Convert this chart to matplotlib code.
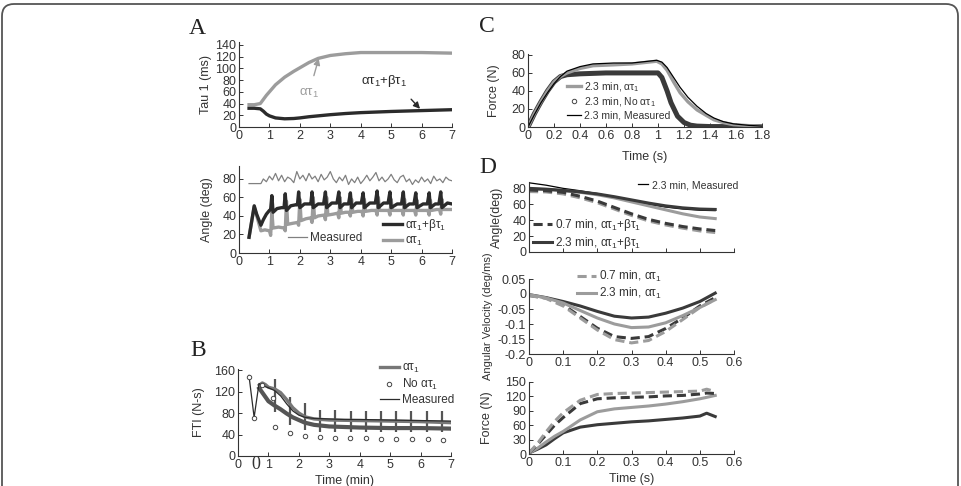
import numpy as np
import matplotlib.pyplot as plt
from matplotlib.lines import Line2D
from matplotlib.patches import FancyBboxPatch

W, H = 961, 486
DARK = '#2b2b2b'
GRAY = '#9c9c9c'
MID = '#808080'
TXT = '#333333'

plt.rcParams['font.family'] = ['Liberation Sans', 'DejaVu Sans']
plt.rcParams['mathtext.fontset'] = 'custom'
plt.rcParams['mathtext.rm'] = 'Liberation Sans'
plt.rcParams['mathtext.it'] = 'Liberation Sans'

A1 = 'ατ$_1$'
AB1 = 'ατ$_1$+βτ$_1$'

# ---- panel A, Tau 1 ----
tau_time = [0.33, 0.5, 0.7, 0.8, 0.9, 1.0, 1.2, 1.5, 1.8, 2.0, 2.3, 2.6, 3.0, 3.5, 4.0, 5.0, 6.0, 7.0]
tau_alpha = [38, 38, 40, 47, 54, 60, 72, 85, 95, 101, 110, 117, 122, 125, 127, 127, 127, 126]
tau_alphabeta = [32, 32, 31, 27, 22, 19, 15.5, 14, 14.5, 15.5, 17.5, 19, 21, 23, 24.5, 26.5, 28, 29.5]

# ---- panel A, Angle ----
ang_meas_t = [0.33, 0.72, 0.8, 0.9, 1.0, 1.1, 1.2, 1.3, 1.4, 1.5, 1.6, 1.7, 1.8, 1.9, 2.0, 2.1, 2.2, 2.3,
              2.4, 2.5, 2.6, 2.7, 2.8, 2.9, 3.0, 3.1, 3.2, 3.3, 3.4, 3.5, 3.6, 3.7, 3.8, 3.9, 4.0, 4.1,
              4.2, 4.3, 4.4, 4.5, 4.6, 4.7, 4.8, 4.9, 5.0, 5.1, 5.2, 5.3, 5.4, 5.5, 5.6, 5.7, 5.8, 5.9,
              6.0, 6.1, 6.2, 6.3, 6.4, 6.5, 6.6, 6.7, 6.8, 6.9, 7.0]
ang_meas = [75, 75, 80, 77, 83, 79, 86, 78, 84, 77, 82, 80, 76, 88, 80, 84, 78, 86,
            80, 83, 77, 85, 79, 82, 88, 80, 76, 82, 78, 84, 74, 80, 76, 82, 75, 79,
            84, 78, 82, 87, 78, 82, 77, 80, 85, 79, 76, 82, 84, 77, 80, 74, 79, 76,
            82, 77, 80, 75, 83, 78, 80, 76, 82, 79, 78]
ang_ab_t = [0.33, 0.5, 0.58, 0.72, 0.8, 0.9, 1.0, 1.04, 1.08, 1.12, 1.25, 1.4, 1.48, 1.52, 1.56, 1.7,
            1.85, 1.92, 1.96, 2.0, 2.15, 2.3, 2.36, 2.4, 2.44, 2.6, 2.78, 2.84, 2.88, 3.05, 3.22, 3.28,
            3.32, 3.45, 3.6, 3.66, 3.7, 3.85, 4.02, 4.08, 4.12, 4.3, 4.48, 4.54, 4.58, 4.75, 4.9, 4.96,
            5.0, 5.2, 5.34, 5.4, 5.44, 5.6, 5.75, 5.81, 5.85, 6.05, 6.19, 6.25, 6.29, 6.45, 6.57, 6.63,
            6.67, 6.85, 7.0]
ang_ab = [17, 51, 42, 30, 36, 42, 46, 47, 62, 44, 48, 49, 49, 64, 46, 51,
          52, 52, 66, 49, 53, 53, 53, 66, 49, 53, 53, 66, 49, 54, 54, 66,
          49, 53, 53, 65, 49, 54, 54, 65, 49, 54, 54, 67, 49, 54, 54, 66,
          49, 53, 53, 66, 49, 53, 53, 65, 49, 53, 53, 65, 49, 53, 53, 66,
          49, 54, 53]
ang_a_t = [0.33, 0.5, 0.6, 0.72, 0.85, 1.0, 1.04, 1.08, 1.12, 1.3, 1.48, 1.52, 1.56, 1.6, 1.75, 1.92,
           1.96, 2.0, 2.04, 2.2, 2.36, 2.4, 2.44, 2.48, 2.6, 2.8, 2.84, 2.88, 2.92, 3.1, 3.24, 3.28,
           3.32, 3.36, 3.5, 3.62, 3.66, 3.7, 3.74, 3.9, 4.04, 4.08, 4.12, 4.16, 4.35, 4.5, 4.54, 4.58,
           4.62, 4.8, 4.92, 4.96, 5.0, 5.04, 5.2, 5.36, 5.4, 5.44, 5.48, 5.65, 5.77, 5.81, 5.85, 5.89,
           6.05, 6.21, 6.25, 6.29, 6.33, 6.5, 6.59, 6.63, 6.67, 6.71, 6.85, 7.0]
ang_a = [17, 50, 38, 24, 25, 24, 19, 45, 27, 28, 27, 24, 56, 31, 32, 33,
         30, 58, 35, 37, 38, 33, 60, 38, 40, 41, 36, 60, 41, 42, 43, 38,
         60, 43, 44, 44, 40, 58, 44, 45, 45, 40, 58, 45, 46, 46, 41, 60,
         46, 46, 46, 41, 58, 46, 46, 46, 41, 58, 46, 46, 46, 41, 57, 46,
         46, 46, 41, 57, 46, 47, 47, 42, 58, 47, 47, 47]

# ---- panel B, FTI ----
fti_meas_t = [0.36, 0.53, 0.69, 0.8, 1.0, 1.2, 1.4, 1.6, 1.8, 2.0, 2.2, 2.5, 3.0, 3.5, 4.0, 5.0, 6.0, 7.0]
fti_meas = [150, 72, 135, 131, 127, 122, 112, 97, 84, 76, 72, 70, 69, 68, 68, 67, 66, 65]
fti_a_t = [0.7, 0.8, 0.9, 1.0, 1.2, 1.4, 1.6, 1.8, 2.0, 2.2, 2.5, 3.0, 4.0, 5.0, 6.0, 7.0]
fti_a = [132, 136, 133, 128, 125, 118, 105, 90, 80, 73, 69, 67, 66, 65, 64, 62]
fti_ab_t = [0.7, 0.8, 0.9, 1.0, 1.2, 1.4, 1.6, 1.8, 2.0, 2.2, 2.5, 3.0, 3.5, 4.0, 5.0, 6.0, 7.0]
fti_ab = [126, 118, 110, 102, 94, 87, 79, 72, 67, 62, 58, 55, 54, 53, 52, 52, 51]
fti_bar_t = [1.2, 1.7, 2.2, 2.7, 3.2, 3.7, 4.2, 4.7, 5.2, 5.7, 6.2, 6.7]
fti_bar_top = [143, 109, 98, 85, 85, 84, 84, 84, 83, 83, 83, 83]
fti_bar_bot = [82, 57, 48, 45, 45, 44, 44, 44, 44, 44, 44, 44]
fti_no_t = [0.36, 0.53, 0.8, 1.15, 1.21, 1.7, 2.2, 2.7, 3.18, 3.69, 4.2, 4.71, 5.2, 5.73, 6.24, 6.73]
fti_no = [148, 71, 132, 108, 54, 42, 38, 35, 34, 33, 33, 32, 31, 31, 31, 30]

# ---- panel C, Force ----
c_t = [0, 0.05, 0.1, 0.15, 0.2, 0.25, 0.3, 0.4, 0.5, 0.66, 0.8, 0.99, 1.03, 1.07, 1.12, 1.17,
       1.23, 1.3, 1.37, 1.43, 1.5, 1.58, 1.7, 1.8]
c_alpha = [0, 15, 28, 40, 50, 56, 60, 65, 68, 69, 70, 73, 70, 63, 50, 38,
           28, 19, 13, 8, 5, 2.6, 1.5, 1]
c_meas = [0, 14, 27, 38, 48, 56, 62, 67, 70, 71, 71, 74, 72, 66, 55, 44,
          33, 23, 15, 10, 6, 3.5, 1.8, 1]
c_no_t = [0, 0.05, 0.1, 0.15, 0.2, 0.25, 0.3, 0.4, 0.6, 0.8, 1.0, 1.03, 1.07, 1.1, 1.15, 1.2,
          1.25, 1.3, 1.4, 1.6, 1.8]
c_no = [0, 15, 28, 40, 50, 56, 58, 59, 60, 60, 60, 55, 40, 27, 12, 5,
        2, 1, 0.5, 0.5, 0.5]

# ---- panel D ----
d_t = [0, 0.05, 0.1, 0.15, 0.2, 0.25, 0.3, 0.35, 0.4, 0.45, 0.5, 0.545]
dang_meas = [87, 84, 80, 77, 73.5, 69, 64.5, 60, 56.5, 54, 52.5, 52]
dang_ab23 = [80, 79, 77.5, 75.5, 73, 69.5, 65.5, 61.5, 58, 55.5, 54, 53.5]
dang_a23 = [79, 78.5, 77, 75, 72, 68, 63, 58, 53, 48, 44, 42]
dang_ab07 = [78, 77, 75, 70, 64, 56, 48, 41, 36, 32, 29, 27]
dang_a07 = [76, 75.5, 73, 68, 62, 54, 46, 39, 34, 30, 26.5, 24.5]

dvel_ab23 = [-0.002, -0.012, -0.025, -0.04, -0.058, -0.074, -0.08, -0.077, -0.064, -0.047, -0.025, 0.003]
dvel_a23 = [-0.002, -0.013, -0.03, -0.055, -0.08, -0.1, -0.112, -0.11, -0.096, -0.072, -0.045, -0.019]
dvel_ab07 = [-0.005, -0.013, -0.036, -0.075, -0.114, -0.142, -0.148, -0.142, -0.115, -0.08, -0.04, -0.012]
dvel_a07 = [-0.005, -0.015, -0.04, -0.08, -0.12, -0.152, -0.163, -0.155, -0.125, -0.085, -0.045, -0.018]

df_t = [0, 0.025, 0.05, 0.075, 0.1, 0.15, 0.2, 0.25, 0.3, 0.35, 0.4, 0.45, 0.5, 0.52, 0.545]
dforce_ab23 = [2, 10, 19, 32, 44, 56, 61, 64, 67, 69, 72, 75, 79, 85, 78]
dforce_a23 = [2, 12, 25, 37, 47, 71, 88, 94, 97, 100, 104, 109, 115, 118, 122]
dforce_ab07 = [2, 20, 40, 60, 76, 105, 115, 117, 118, 119, 121, 122, 125, 127, 126]
dforce_a07 = [2, 22, 46, 68, 86, 112, 124, 126, 127, 128, 129, 130, 131, 135, 130]

vel_ticks = [-0.2, -0.15, -0.1, -0.05, 0, 0.05]
vel_labels = ['-0.2', '-0.15', '-0.1', '-0.05', '0', '0.05']

fig = plt.figure(figsize=(W / 100, H / 100), dpi=100)
fig.patch.set_facecolor('white')


def px_axes(l, t, r, b):
    return fig.add_axes([l / W, 1 - b / H, (r - l) / W, (b - t) / H])


def style(ax):
    for s in ['top', 'right']:
        ax.spines[s].set_visible(False)
    for s in ['left', 'bottom']:
        ax.spines[s].set_color(TXT)
        ax.spines[s].set_linewidth(0.8)
    ax.tick_params(direction='in', length=3, width=0.7, colors=TXT, labelsize=9, pad=2)


def ylab(ax, text, right_px, l, r, fs=9):
    ax.set_ylabel(text, fontsize=fs, color=TXT)
    ax.yaxis.set_label_coords((right_px - l) / (r - l), 0.5)


def leg(ax, handles, labels, x, y, fs, **kw):
    opts = dict(loc='upper left', bbox_to_anchor=(x / W, 1 - y / H),
                bbox_transform=fig.transFigure, frameon=False, fontsize=fs, borderpad=0,
                borderaxespad=0, handletextpad=0.3, labelspacing=0.15, handlelength=1.6)
    opts.update(kw)
    lg = ax.legend(handles, labels, **opts)
    for t in lg.get_texts():
        t.set_color(TXT)
    return lg


# ---- A top ----
ax = px_axes(239, 42, 452, 127)
style(ax)
ax.plot(tau_time, tau_alpha, color=GRAY, lw=2.4)
ax.plot(tau_time, tau_alphabeta, color=DARK, lw=2.4)
ax.set_xlim(0, 7)
ax.set_ylim(0, 145)
ax.set_xticks(range(8))
ax.set_yticks(range(0, 141, 20))
ylab(ax, 'Tau 1 (ms)', 212, 239, 452)
ax.annotate(A1, xy=(2.62, 117), xytext=(2.3, 58), fontsize=9.5, color=GRAY, ha='center', va='center',
            arrowprops=dict(arrowstyle='-|>', color=GRAY, lw=1.0, shrinkA=6, shrinkB=0))
ax.annotate(AB1, xy=(5.95, 31), xytext=(4.75, 78), fontsize=9.5, color=DARK, ha='center', va='center',
            arrowprops=dict(arrowstyle='-|>', color=DARK, lw=1.0, shrinkA=7, shrinkB=0,
                            relpos=(0.9, 0)))

# ---- A bottom ----
ax = px_axes(239, 166, 452, 253)
style(ax)
h_meas, = ax.plot(ang_meas_t, ang_meas, color=MID, lw=0.9)
h_a, = ax.plot(ang_a_t, ang_a, color=GRAY, lw=2.4)
h_ab, = ax.plot(ang_ab_t, ang_ab, color=DARK, lw=2.4)
ax.set_xlim(0, 7)
ax.set_ylim(0, 94)
ax.set_xticks(range(8))
ax.set_yticks(range(0, 81, 20))
ylab(ax, 'Angle (deg)', 213, 239, 452)
lg1 = leg(ax, [h_meas], ['Measured'], 288, 232, 8.5)
ax.add_artist(lg1)
leg(ax, [h_ab, h_a], [AB1, A1], 383, 217, 8.5)

# ---- B ----
ax = px_axes(238, 369, 451, 456)
style(ax)
ax.vlines(fti_bar_t, fti_bar_bot, fti_bar_top, color='#555555', lw=1.6)
h_ab, = ax.plot(fti_ab_t, fti_ab, color='#555555', lw=3.0)
h_a, = ax.plot(fti_a_t, fti_a, color='#777777', lw=2.4)
h_meas, = ax.plot(fti_meas_t, fti_meas, color=DARK, lw=0.9)
h_no, = ax.plot(fti_no_t, fti_no, 'o', ms=3.2, mfc='white', mec='#444444', mew=0.7)
ax.set_xlim(0, 7)
ax.set_ylim(0, 162)
ax.set_xticks(range(8))
ax.set_yticks(range(0, 161, 40))
ylab(ax, 'FTI (N-s)', 205, 238, 451)
ax.set_xlabel('Time (min)', fontsize=9, color=TXT)
ax.xaxis.set_label_coords(0.5, -(475 - 456) / 87)
fig.text(256 / W, 1 - 464 / H, '0', fontsize=13, family='Liberation Serif', color=TXT,
         ha='center', va='center')
leg(ax, [Line2D([], [], color='#777777', lw=2.4), h_no, h_meas], [A1, 'No ' + A1, 'Measured'],
    380, 362, 8.5)

# ---- C ----
ax = px_axes(528, 54, 762, 127)
style(ax)
ax.plot(c_no_t, c_no, color='#3a3a3a', lw=3.6)
ax.plot(c_t, c_alpha, color=GRAY, lw=2.4)
ax.plot(c_t, c_meas, color='black', lw=0.9)
ax.set_xlim(0, 1.8)
ax.set_ylim(0, 81)
ax.set_xticks(np.round(np.arange(0, 1.81, 0.2), 1))
ax.set_xticklabels(['0', '0.2', '0.4', '0.6', '0.8', '1', '1.2', '1.4', '1.6', '1.8'])
ax.set_yticks(range(0, 81, 20))
ylab(ax, 'Force (N)', 500, 528, 762)
ax.set_xlabel('Time (s)', fontsize=9, color=TXT)
ax.xaxis.set_label_coords(0.5, -(151 - 127) / 73)
leg(ax, [Line2D([], [], color=GRAY, lw=2.4),
         Line2D([], [], ls='none', marker='o', ms=3.2, mfc='white', mec='#444444', mew=0.7),
         Line2D([], [], color='black', lw=0.9)],
    ['2.3 min, ' + A1, '2.3 min, No ' + A1, '2.3 min, Measured'], 567, 80, 7.5,
    handlelength=1.3)

# ---- D angle ----
L, R = 529, 734
ax = px_axes(L, 182, R, 252)
style(ax)
h_m, = ax.plot(d_t, dang_meas, color='black', lw=0.9)
h_a23, = ax.plot(d_t, dang_a23, color=GRAY, lw=2.2)
h_a07, = ax.plot(d_t, dang_a07, color=GRAY, lw=2.2, ls=(0, (3, 1.6)))
h_ab07, = ax.plot(d_t, dang_ab07, color='#3a3a3a', lw=2.2, ls=(0, (3, 1.6)))
h_ab23, = ax.plot(d_t, dang_ab23, color='#3a3a3a', lw=2.2)
ax.set_xlim(0, 0.6)
ax.set_ylim(0, 88)
ax.set_xticks(np.round(np.arange(0, 0.61, 0.1), 1))
ax.set_xticklabels([])
ax.set_yticks(range(0, 81, 20))
ylab(ax, 'Angle(deg)', 503, L, R)
lg1 = leg(ax, [h_m], ['2.3 min, Measured'], 638, 180, 7.5, handlelength=1.0)
ax.add_artist(lg1)
leg(ax, [h_ab07, h_ab23], ['0.7 min, ' + AB1, '2.3 min, ' + AB1], 533, 217, 8.5)

# ---- D angular velocity ----
ax = px_axes(L, 279, R, 354)
style(ax)
ax.plot(d_t, dvel_ab23, color='#3a3a3a', lw=2.2)
ax.plot(d_t, dvel_ab07, color='#3a3a3a', lw=2.2, ls=(0, (3, 1.6)))
h_a23, = ax.plot(d_t, dvel_a23, color=GRAY, lw=2.2)
h_a07, = ax.plot(d_t, dvel_a07, color=GRAY, lw=2.2, ls=(0, (3, 1.6)))
ax.set_xlim(0, 0.6)
ax.set_ylim(-0.2, 0.05)
ax.set_xticks(np.round(np.arange(0, 0.61, 0.1), 1))
ax.set_xticklabels(['0', '0.1', '0.2', '0.3', '0.4', '0.5', '0.6'])
ax.set_yticks(vel_ticks)
ax.set_yticklabels(vel_labels)
ylab(ax, 'Angular Velocity (deg/ms)', 493, L, R, fs=8)
leg(ax, [h_a07, h_a23], ['0.7 min, ' + A1, '2.3 min, ' + A1], 577, 269, 8.5)

# ---- D force ----
ax = px_axes(L, 382, R, 454)
style(ax)
ax.plot(df_t, dforce_ab23, color='#3a3a3a', lw=2.2)
ax.plot(df_t, dforce_a23, color=GRAY, lw=2.2)
ax.plot(df_t, dforce_ab07, color='#3a3a3a', lw=2.2, ls=(0, (3, 1.6)))
ax.plot(df_t, dforce_a07, color=GRAY, lw=2.2, ls=(0, (3, 1.6)))
ax.set_xlim(0, 0.6)
ax.set_ylim(0, 150)
ax.set_xticks(np.round(np.arange(0, 0.61, 0.1), 1))
ax.set_xticklabels(['0', '0.1', '0.2', '0.3', '0.4', '0.5', '0.6'])
ax.set_yticks(range(0, 151, 30))
ylab(ax, 'Force (N)', 493, L, R)
ax.set_xlabel('Time (s)', fontsize=9, color=TXT)
ax.xaxis.set_label_coords(0.5, -(473 - 454) / 72)

# panel letters
for letter, x, y in [('A', 197, 28), ('B', 198, 351), ('C', 487, 26), ('D', 488, 167)]:
    fig.text(x / W, 1 - y / H, letter, fontsize=17, family='Liberation Serif', color='#222222',
             ha='center', va='center')

# outer frame
frame = FancyBboxPatch((2, -30), 956, H - 4 + 30, boxstyle='round,pad=0,rounding_size=12',
                       transform=None, fill=False, ec='#555555', lw=1.3)
fig.add_artist(frame)

fig.savefig('out.png', dpi=100, facecolor='white')
